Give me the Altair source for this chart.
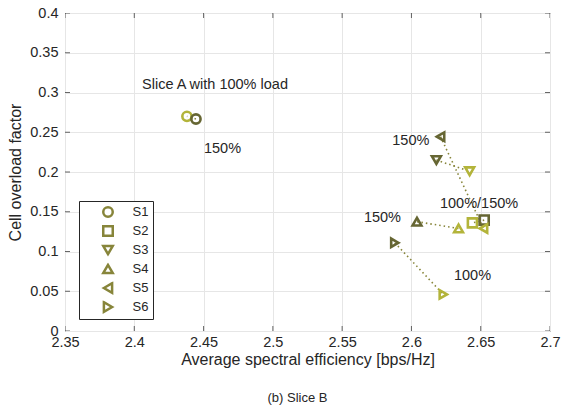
import altair as alt
import pandas as pd

# ---- data ----
series = ["S1", "S2", "S3", "S4", "S5", "S6"]
x_100 = [2.438, 2.644, 2.642, 2.634, 2.652, 2.623]
y_100 = [0.270, 0.136, 0.201, 0.129, 0.129, 0.046]
x_150 = [2.4445, 2.6525, 2.618, 2.604, 2.621, 2.588]
y_150 = [0.2667, 0.1395, 0.215, 0.1375, 0.2444, 0.111]

ann_text = ["Slice A with 100% load", "150%", "150%", "100%/150%", "150%", "100%"]
ann_x = [2.4056, 2.4503, 2.5862, 2.6206, 2.5657, 2.6307]
ann_y = [0.3094, 0.229, 0.239, 0.160, 0.142, 0.069]

x_ticks = [2.35, 2.4, 2.45, 2.5, 2.55, 2.6, 2.65, 2.7]
y_ticks = [0, 0.05, 0.1, 0.15, 0.2, 0.25, 0.3, 0.35, 0.4]

shapes = ["circle", "square", "triangle-down", "triangle-up", "triangle-left", "triangle-right"]
sizes = [85, 70, 125, 125, 125, 125]
light = "#b3b43a"
dark = "#666633"
mid = "#87853a"
txt = "#262626"
FONT = "Liberation Sans"

rows = []
for i, s in enumerate(series):
    rows.append({"series": s, "load": "100%", "x": x_100[i], "y": y_100[i], "ord": 1})
    rows.append({"series": s, "load": "150%", "x": x_150[i], "y": y_150[i], "ord": 0})
df = pd.DataFrame(rows)
ann = pd.DataFrame({"t": ann_text, "x": ann_x, "y": ann_y})
xt = pd.DataFrame({"x": x_ticks})
yt = pd.DataFrame({"y": y_ticks})

xs = alt.Scale(domain=[2.35, 2.7], nice=False, zero=False)
ys = alt.Scale(domain=[0, 0.4], nice=False, zero=False)

x_axis = alt.Axis(values=x_ticks, format=".2~f", ticks=False, domain=False,
                  labelOverlap=False, labelFlush=False,
                  labelPadding=4, titlePadding=3, gridColor="#e6e6e6")
y_axis = alt.Axis(values=y_ticks, format=".2~f", ticks=False, domain=False,
                  labelOverlap=False, labelFlush=False,
                  labelPadding=7, titlePadding=6, gridColor="#e6e6e6")
x_title = "Average spectral efficiency [bps/Hz]"
y_title = "Cell overload factor"
X = alt.X("x:Q", scale=xs, title=x_title, axis=x_axis)
Y = alt.Y("y:Q", scale=ys, title=y_title, axis=y_axis)

lines = alt.Chart(df).mark_line(strokeDash=[1.5, 3], strokeWidth=1.6, color=mid).encode(
    x=X, y=Y, detail="series:N", order="ord:Q")

points = alt.Chart(df).mark_point(filled=False, strokeWidth=2.6, opacity=1).encode(
    x=X, y=Y,
    shape=alt.Shape("series:N", scale=alt.Scale(domain=series, range=shapes),
                    legend=alt.Legend(title=None, orient="none", legendX=14, legendY=188,
                                      strokeColor=txt, fillColor="white", padding=4.5,
                                      symbolStrokeColor=mid, symbolStrokeWidth=2.5,
                                      symbolSize=90, clipHeight=13,
                                      symbolOffset=18, labelOffset=18, rowPadding=5,
                                      labelFontSize=13, labelFont=FONT, labelColor=txt)),
    size=alt.Size("series:N", scale=alt.Scale(domain=series, range=sizes), legend=None),
    color=alt.Color("load:N", scale=alt.Scale(domain=["100%", "150%"], range=[light, dark]),
                    legend=None),
)

texts = alt.Chart(ann).mark_text(align="left", baseline="middle", fontSize=14.5,
                                 font=FONT, color=txt).encode(
    x=X, y=Y, text="t:N")

XD = lambda v: alt.XDatum(v, scale=xs, axis=x_axis, title=x_title)
YD = lambda v: alt.YDatum(v, scale=ys, axis=y_axis, title=y_title)

tk = dict(orient="vertical", size=10, thickness=1, color=txt, clip=True)
tb = alt.Chart(xt).mark_tick(**tk).encode(x=X, y=YD(0))
tt = alt.Chart(xt).mark_tick(**tk).encode(x=X, y=YD(0.4))
th = dict(orient="horizontal", size=10, thickness=1, color=txt, clip=True)
tl = alt.Chart(yt).mark_tick(**th).encode(y=Y, x=XD(2.35))
tr = alt.Chart(yt).mark_tick(**th).encode(y=Y, x=XD(2.7))

chart = alt.layer(lines, tb, tt, tl, tr, points, texts).properties(
    width=485, height=318,
    autosize=alt.AutoSizeParams(type="none"),
    padding={"left": 65, "top": 13, "right": 11, "bottom": 75},
    title=alt.TitleParams("(b) Slice B", orient="bottom", anchor="middle", dx=-10,
                          offset=24, fontSize=13, font=FONT, fontWeight="normal", color=txt),
).resolve_scale(shape="independent").configure_view(
    stroke=txt, strokeWidth=1
).configure_axis(
    labelFont=FONT, titleFont=FONT, labelFontSize=14.5, titleFontSize=16,
    labelColor=txt, titleColor=txt, titleFontWeight="normal"
)

chart.save("out.html", embed_options={"renderer": "svg", "actions": False})
